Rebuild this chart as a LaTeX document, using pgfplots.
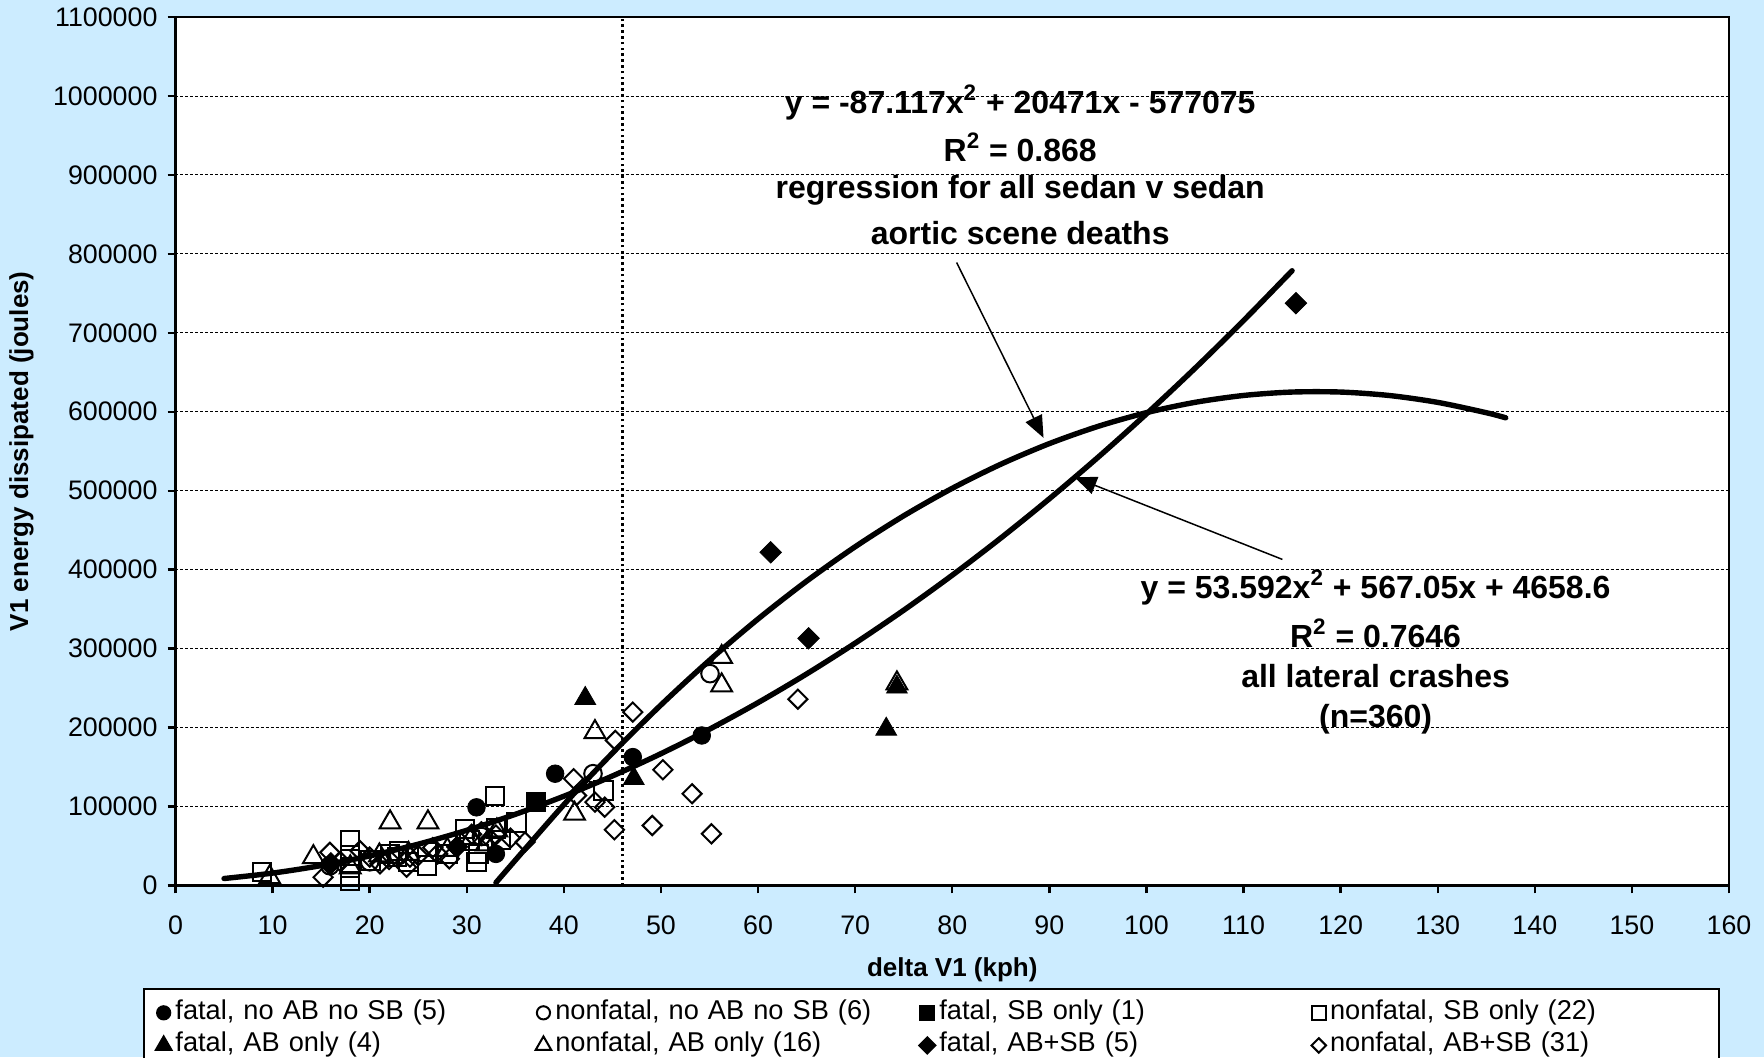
\documentclass[border=0pt]{standalone}
\usepackage{pgfplots}
\pgfplotsset{compat=1.18}
\usetikzlibrary{arrows.meta}
\usepackage{fontspec}
\setmainfont{Liberation Sans}
\definecolor{bgblue}{RGB}{204,236,255}
\begin{document}
\begin{tikzpicture}
\fill[bgblue] (-87.75pt,-86pt) rectangle (794.25pt,442.75pt);
\path[use as bounding box] (-87.75pt,-86pt) rectangle (794.25pt,442.75pt);
\clip (-87.75pt,-86pt) rectangle (794.25pt,442.75pt);
\begin{axis}[
  at={(0pt,0pt)}, anchor=south west,
  scale only axis, width=776.75pt, height=434.25pt,
  xmin=0, xmax=160, ymin=0, ymax=1100000,
  xtick={0,10,20,30,40,50,60,70,80,90,100,110,120,130,140,150,160},
  ytick={0,100000,200000,300000,400000,500000,600000,700000,800000,900000,1000000,1100000},
  scaled y ticks=false,
  yticklabel style={/pgf/number format/fixed,/pgf/number format/1000 sep={}, xshift=-1.5pt},
  xticklabel style={yshift=-7.5pt},
  /pgf/number format/assume math mode=true,
  ticklabel style={font=\fontsize{13.4}{16}\selectfont},
  tick align=outside, tick pos=left,
  major tick length=4pt,
  tick style={black, line width=1.2pt},
  axis line style={line width=1.2pt},
  axis background/.style={fill=white},
  ymajorgrids,
  major grid style={black, line width=0.4pt, dash pattern=on 1.5pt off 1pt},
  xlabel={delta V1 (kph)},
  ylabel={V1 energy dissipated (joules)},
  label style={font=\fontsize{13}{15}\selectfont\bfseries},
  xlabel style={at={(axis description cs:0.5,-0.0975)}, anchor=center},
  ylabel style={at={(axis description cs:-0.0991,0.5)}, anchor=center},
  legend columns=4,
  legend cell align=left,
  legend image code/.code={\draw[#1, every mark/.append style={scale=0.75}] plot coordinates {(0pt,0pt)};},
  legend style={at={(axis description cs:-0.021,-0.1184)}, anchor=north west,
    draw=black, line width=1pt, fill=white, font=\fontsize{13.6}{16}\selectfont,
    inner xsep=6pt, inner ysep=5pt, row sep=2.8pt,
    nodes={inner sep=0pt, text height=10pt, text depth=3.5pt, text width=183pt, align=left},
    /tikz/every odd column/.append style={column sep=2.0pt},
    /tikz/column 2/.style={nodes={text width=180.1pt}},
    /tikz/column 4/.style={nodes={text width=182.0pt}},
    /tikz/column 6/.style={nodes={text width=186.1pt}},
    /tikz/column 8/.style={nodes={text width=188.5pt}}},
]
% fatal, no AB no SB
\addplot[only marks, black, mark=*, mark size=4.4pt, mark options={fill=black, draw=black}] coordinates {
(31,99000) (33,40000) (39.1,141600) (47.1,162600) (54.2,190000)};
\addlegendentry{fatal, no AB no SB (5)}
% nonfatal, no AB no SB
\addplot[only marks, black, mark=o, mark size=4.4pt, mark options={draw=black, line width=1pt}] coordinates {
(15.9,25000) (23,38000) (43,141600) (55.05,268300) (31.5,62000) (20,30000)};
\addlegendentry{nonfatal, no AB no SB (6)}
% fatal, SB only
\addplot[only marks, black, mark=square*, mark size=4.6pt, mark options={fill=black, draw=black}] coordinates {
(37.1,106000)};
\addlegendentry{fatal, SB only (1)}
% nonfatal, SB only
\addplot[only marks, black, mark=square, mark size=4.6pt, mark options={draw=black, line width=1pt}] coordinates {
(8.9,16900) (18,57000) (18,38000) (18,23000) (18,6000) (20.1,31700) (22.1,40000) (23,44000)
(25.9,42200) (25.9,25300) (29.8,71800) (30.3,57000) (31.2,40100) (31,30000) (32.9,113000)
(35.1,80000) (44.06,120400) (22.8,36000) (24,30000) (33.5,58000) (28,40000) (33,72000)};
\addlegendentry{nonfatal, SB only (22)}
% fatal, AB only
\addplot[only marks, black, mark=triangle*, mark size=6pt, mark options={fill=black, draw=black}] coordinates {
(42.2,237000) (47.2,135500) (73.2,198000) (74.3,251300)};
\addlegendentry{fatal, AB only (4)}
% nonfatal, AB only
\addplot[only marks, black, mark=triangle, mark size=6pt, mark options={draw=black, line width=1pt}] coordinates {
(9.7,10500) (14.2,35900) (22.1,80000) (26.0,80000) (43.2,194300) (41.1,90900) (56.25,289400)
(56.25,253500) (74.3,256000) (18,23000) (21,38000) (24,40000) (28,45000) (30.5,60000)
(33.1,69700) (32,52000)};
\addlegendentry{nonfatal, AB only (16)}
% fatal, AB+SB
\addplot[only marks, black, mark=square*, mark size=3.8pt, mark options={rotate=45, fill=black, draw=black}] coordinates {
(16,28000) (29,49000) (61.3,422000) (65.2,313000) (115.4,737500)};
\addlegendentry{fatal, AB+SB (5)}
% nonfatal, AB+SB
\addplot[only marks, black, mark=square, mark size=3.4pt, mark options={rotate=45, draw=black, line width=1pt}] coordinates {
(47.1,219600) (45.3,183800) (41.0,135200) (41.3,114000) (43.2,105600) (44.2,99200) (45.2,70600)
(50.2,146600) (49.1,76000) (53.2,116200) (55.2,65500) (64.1,236000) (36.0,55000)
(15.2,10500) (15.9,42000) (19,44000) (21.06,27500) (23.8,23200) (24.15,35900) (28.2,33800)
(32.4,59000) (33,64000) (20,36000) (22,33000) (25,38000) (27,40000) (30.5,65000) (31.5,68000)
(34.5,60000) (17,30000) (26.5,48000)};
\addlegendentry{nonfatal, AB+SB (31)}
% regression: all lateral crashes
\addplot[forget plot, black, line width=2.7pt, line cap=round, smooth] coordinates {
(5,8834) (10,15688) (15,25223) (20,37436) (25,52330) (30,69903) (35,90156) (40,113088)
(45,138700) (50,166991) (55,197962) (60,231613) (65,267943) (70,306953) (75,348642)
(80,393011) (85,440060) (90,489788) (95,542196) (100,597284) (105,655051) (110,715497)
(115,778624)};
% regression: aortic scene deaths
\addplot[forget plot, black, line width=2.7pt, line cap=round, smooth] coordinates {
(33,3598) (40,102378) (45,167708) (50,228683) (55,285301) (60,337564) (65,385471) (70,429022)
(75,468217) (80,503056) (85,533540) (90,559667) (95,581439) (100,598855) (105,611915)
(110,620619) (115,624968) (120,624960) (125,620597) (130,611878) (135,598803) (137,592353)};
% vertical dotted line
\addplot[forget plot, black, line width=1.5pt, dash pattern=on 1.3pt off 1.6pt] coordinates {(46,0) (46,1100000)};
% annotations
\node[font=\fontsize{16}{19}\selectfont\bfseries] at (axis cs:87,991800) {y = -87.117x\textsuperscript{2} + 20471x - 577075};
\node[font=\fontsize{16}{19}\selectfont\bfseries] at (axis cs:87,934800) {R\textsuperscript{2} = 0.868};
\node[font=\fontsize{16}{19}\selectfont\bfseries] at (axis cs:87,880650) {regression for all sedan v sedan};
\node[font=\fontsize{16}{19}\selectfont\bfseries] at (axis cs:87,826500) {aortic scene deaths};
\node[font=\fontsize{16}{19}\selectfont\bfseries] at (axis cs:123.6,377600) {y = 53.592x\textsuperscript{2} + 567.05x + 4658.6};
\node[font=\fontsize{16}{19}\selectfont\bfseries] at (axis cs:123.6,319200) {R\textsuperscript{2} = 0.7646};
\node[font=\fontsize{16}{19}\selectfont\bfseries] at (axis cs:123.6,265000) {all lateral crashes};
\node[font=\fontsize{16}{19}\selectfont\bfseries] at (axis cs:123.6,210900) {(n=360)};
\draw[line width=0.75pt, -{Triangle[length=11pt,width=9pt]}] (axis cs:80.45,789000) -- (axis cs:89.4,567000);
\draw[line width=0.75pt, -{Triangle[length=11pt,width=9pt]}] (axis cs:114,413000) -- (axis cs:92.6,517000);
\end{axis}
\end{tikzpicture}
\end{document}
